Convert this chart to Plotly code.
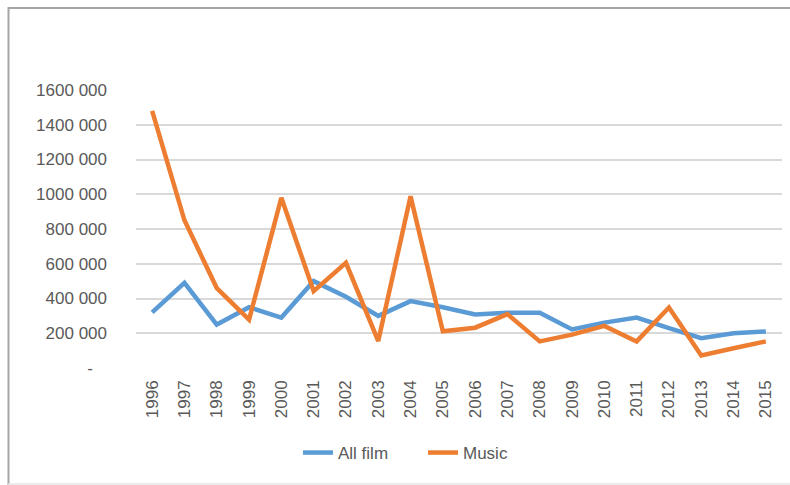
import plotly.graph_objects as go

years = [str(y) for y in range(1996, 2016)]
all_film = [320000, 490000, 250000, 350000, 290000, 500000, 410000, 300000, 385000, 350000,
            308000, 318000, 318000, 222000, 261000, 290000, 230000, 172000, 200000, 210000]
music = [1480000, 850000, 460000, 278000, 980000, 442000, 605000, 155000, 988000, 211000,
         232000, 310000, 153000, 192000, 242000, 153000, 348000, 72000, 114000, 153000]

y_tickvals = [0, 200000, 400000, 600000, 800000, 1000000, 1200000, 1400000, 1600000]
y_ticktext = ["-\u00a0\u00a0\u00a0", "200 000", "400 000", "600 000", "800 000",
              "1000 000", "1200 000", "1400 000", "1600 000"]

FONT = "Liberation Sans"
TEXT = "#595959"

fig = go.Figure()
fig.add_trace(go.Scatter(x=years, y=all_film, name="All film", mode="lines",
                         line=dict(color="#5b9bd5", width=4.5)))
fig.add_trace(go.Scatter(x=years, y=music, name="Music", mode="lines",
                         line=dict(color="#ed7d31", width=4.5)))

# plot-area geometry in pixels, used to place the chart border
L, R, T, B = 136, 782, 90, 368
W, H = R - L, B - T


def px(x):
    return (x - L) / W


def py(y):
    return (B - y) / H


border = dict(color="#a6a6a6", width=2)
shapes = [
    dict(type="line", xref="paper", yref="paper", x0=px(8), x1=px(790), y0=py(8), y1=py(8), line=border),
    dict(type="line", xref="paper", yref="paper", x0=px(8.5), x1=px(8.5), y0=py(7), y1=py(485), line=border),
    dict(type="line", xref="paper", yref="paper", x0=px(8), x1=px(790), y0=py(484), y1=py(484),
         line=dict(color="#e6e6e6", width=1.5)),
]

fig.update_layout(
    width=790, height=485,
    margin=dict(l=L, r=790 - R, t=T, b=485 - B),
    paper_bgcolor="white", plot_bgcolor="white",
    font=dict(family=FONT, size=17, color=TEXT),
    shapes=shapes,
    showlegend=True,
    legend=dict(orientation="h", x=px(298), xanchor="left", y=py(453), yanchor="middle",
                font=dict(family=FONT, size=17, color=TEXT), itemwidth=30,
                entrywidth=80, entrywidthmode="pixels",
                bgcolor="rgba(0,0,0,0)"),
    xaxis=dict(type="category", range=[-0.5, 19.5], showgrid=False, zeroline=False,
               showline=False, ticks="", tickangle=-90, ticklabelstandoff=8,
               tickfont=dict(family=FONT, size=17, color=TEXT)),
    yaxis=dict(range=[0, 1600000], tickvals=y_tickvals, ticktext=y_ticktext,
               showgrid=True, gridcolor="#d9d9d9", gridwidth=1.5, zeroline=False,
               showline=False, ticks="", ticklabelstandoff=28,
               tickfont=dict(family=FONT, size=17, color=TEXT)),
)

fig.write_html("out.html")
